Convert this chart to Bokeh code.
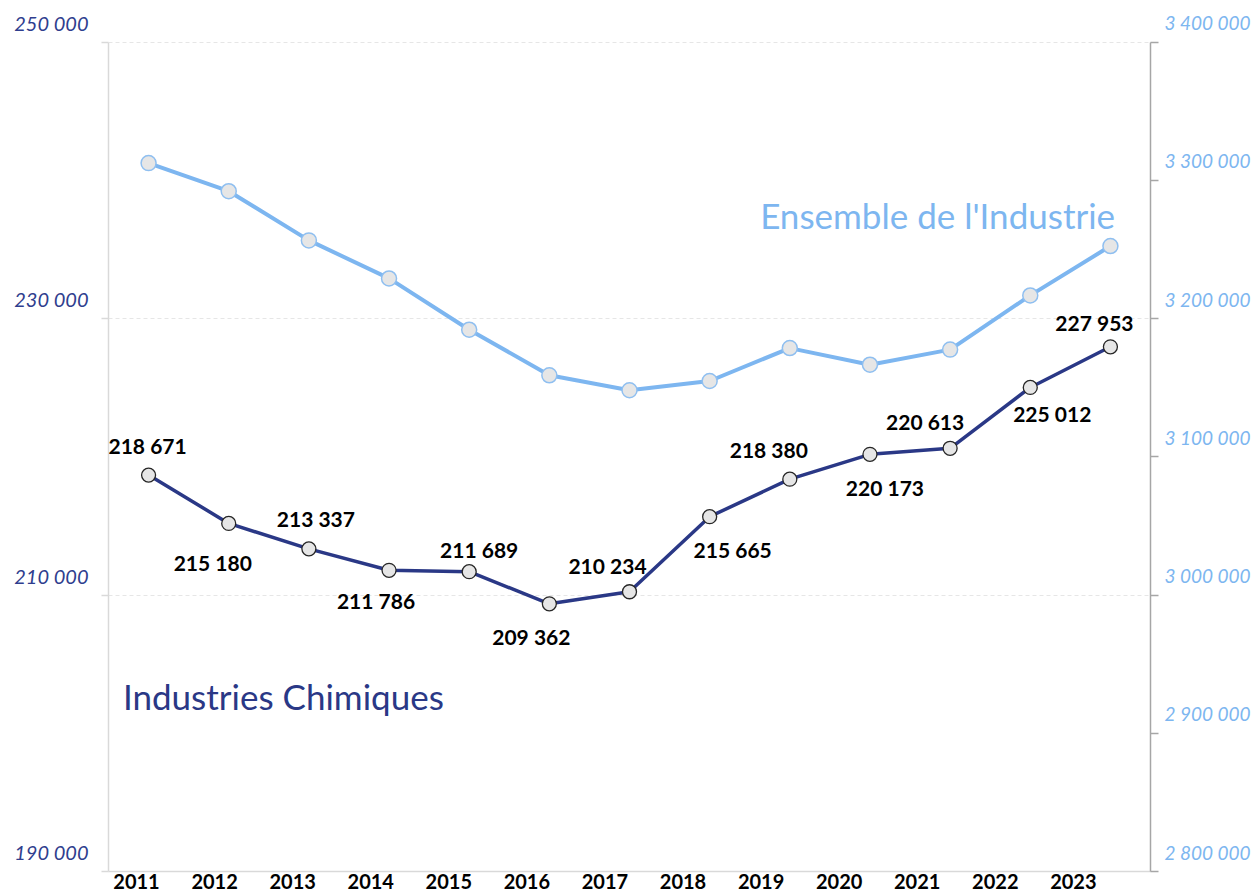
from bokeh.plotting import figure
from bokeh.models import (Range1d, LinearAxis, FixedTicker, Grid, LabelSet, Label,
                          ColumnDataSource, CustomJSTickFormatter)
from bokeh.embed import file_html
from bokeh.resources import INLINE
from bokeh.core.properties import value

# ---------------- data ----------------
years = ["2011", "2012", "2013", "2014", "2015", "2016", "2017",
         "2018", "2019", "2020", "2021", "2022", "2023"]
chimie = [218671, 215180, 213337, 211786, 211689, 209362, 210234,
          215665, 218380, 220173, 220613, 225012, 227953]
industrie = [3312400, 3292100, 3256500, 3229000, 3191900, 3158900, 3148100,
             3154800, 3178600, 3166600, 3177500, 3216700, 3252400]
left_ticks = [190000, 210000, 230000, 250000]
right_ticks = [2800000, 2900000, 3000000, 3100000, 3200000, 3300000, 3400000]
title_chimie = "Industries Chimiques"
title_industrie = "Ensemble de l'Industrie"

# label placement (screen px offsets of the value labels, styling only)
label_dx = [-1, -16, 7, -13, 10, -18, -22, 23, -21, 15, -25, 22, -16]
label_dy = [-30, 39, -30, 30, -22, 33, -26, 33, -30, 33, -27, 26, -24]


def fr(v):
    return f"{v:,}".replace(",", " ")


DARK = "#2a3886"
LIGHT = "#7db6f0"
LEFT_TXT = "#2f3e8e"
FONT = "Lato"

W, H = 1253, 896
BORDER_L, BORDER_R, BORDER_T, BORDER_B = 108, 97, 8, 25
TOP_PAD = 33.5          # px of empty frame above the top tick
LABEL_RISE = 19.5       # tick labels sit this many px above their tick

n = len(years)
xs = list(range(n))

frame_h = H - BORDER_T - BORDER_B
axis_h = frame_h - TOP_PAD
lo, hi = left_ticks[0], left_ticks[-1]
rlo, rhi = right_ticks[0], right_ticks[-1]
upp_l = (hi - lo) / axis_h
upp_r = (rhi - rlo) / axis_h

p = figure(width=W, height=H,
           x_range=Range1d(-0.5, n - 0.5),
           y_range=Range1d(lo, hi + TOP_PAD * upp_l),
           output_backend="svg", toolbar_location=None,
           x_axis_location=None, y_axis_location=None,
           min_border_left=BORDER_L, min_border_right=BORDER_R,
           min_border_top=BORDER_T, min_border_bottom=BORDER_B)
p.outline_line_color = None
p.grid.visible = False
p.background_fill_color = "white"
p.border_fill_color = "white"

p.extra_y_ranges = {
    "right": Range1d(rlo, rhi + TOP_PAD * upp_r),
    "left_lab": Range1d(lo - LABEL_RISE * upp_l, hi + (TOP_PAD - LABEL_RISE) * upp_l),
    "right_lab": Range1d(rlo - LABEL_RISE * upp_r, rhi + (TOP_PAD - LABEL_RISE) * upp_r),
}
p.extra_x_ranges = {"lab": Range1d(-0.359, n - 1 + 0.988)}


def blank():
    return CustomJSTickFormatter(code="return ''")


# visible left axis (line + ticks)
la = LinearAxis(ticker=FixedTicker(ticks=left_ticks), formatter=blank(),
                bounds=(lo, hi),
                axis_line_color="#d9d9d9", axis_line_width=1.5,
                major_tick_line_color="#d9d9d9", major_tick_line_width=1.5,
                major_tick_out=7, major_tick_in=0,
                minor_tick_out=0, minor_tick_in=0, major_label_standoff=0)
p.add_layout(la, "left")
# left tick labels (raised above their ticks)
la2 = LinearAxis(y_range_name="left_lab", ticker=FixedTicker(ticks=left_ticks),
                 major_label_overrides={v: fr(v) for v in left_ticks},
                 axis_line_color=None, major_tick_line_color=None,
                 minor_tick_line_color=None, major_label_standoff=7,
                 major_label_text_font=FONT, major_label_text_font_style="italic",
                 major_label_text_font_size="20px",
                 major_label_text_color=LEFT_TXT)
p.add_layout(la2, "left")

# visible right axis
ra = LinearAxis(y_range_name="right", ticker=FixedTicker(ticks=right_ticks),
                formatter=blank(), bounds=(rlo, rhi),
                axis_line_color="#a6a6a6", axis_line_width=1.5,
                major_tick_line_color="#a6a6a6", major_tick_line_width=1.5,
                major_tick_out=8, major_tick_in=0,
                minor_tick_out=0, minor_tick_in=0, major_label_standoff=0)
p.add_layout(ra, "right")
ra2 = LinearAxis(y_range_name="right_lab", ticker=FixedTicker(ticks=right_ticks),
                 major_label_overrides={v: fr(v) for v in right_ticks},
                 axis_line_color=None, major_tick_line_color=None,
                 minor_tick_line_color=None, major_label_standoff=0,
                 major_label_text_font=FONT, major_label_text_font_style="italic",
                 major_label_text_font_size="19px",
                 major_label_text_color=LIGHT)
p.add_layout(ra2, "right")

# bottom axis (year labels)
ba = LinearAxis(x_range_name="lab", ticker=FixedTicker(ticks=xs),
                major_label_overrides={i: y for i, y in zip(xs, years)},
                axis_line_color="#d9d9d9", axis_line_width=1.5,
                major_tick_out=0, major_tick_in=0,
                minor_tick_out=0, minor_tick_in=0,
                major_label_standoff=2,
                major_label_text_font=FONT,
                major_label_text_font_style="bold",
                major_label_text_font_size="20px",
                major_label_text_color="black")
p.add_layout(ba, "below")

# grid
grid = Grid(dimension=1, ticker=FixedTicker(ticks=left_ticks),
            grid_line_color="#e6e6e6", grid_line_dash="4 3", grid_line_width=1)
p.add_layout(grid, "center")

src = ColumnDataSource(dict(
    x=xs, chimie=chimie, industrie=industrie,
    lab=[fr(v) for v in chimie],
    dx=label_dx, dy=[-d for d in label_dy],
))

# Ensemble de l'Industrie (right axis)
p.line("x", "industrie", source=src, y_range_name="right",
       line_color=LIGHT, line_width=4)
p.scatter("x", "industrie", source=src, y_range_name="right", size=15,
          fill_color="#e6e6e6", line_color="#8fbff0", line_width=1.5)

# Industries Chimiques (left axis)
p.line("x", "chimie", source=src, line_color=DARK, line_width=3.5)
p.scatter("x", "chimie", source=src, size=14,
          fill_color="#e6e6e6", line_color="#262626", line_width=1.3)

p.add_layout(LabelSet(x="x", y="chimie", text="lab", source=src,
                      x_offset="dx", y_offset="dy",
                      text_align="center", text_baseline="middle",
                      text_font=value(FONT), text_font_style="bold",
                      text_font_size="21px", text_color="black"))

# series titles
p.add_layout(Label(x=7.63, y=237451, text=title_industrie,
                   text_font=FONT, text_font_size="35px", text_color=LIGHT,
                   text_align="left", text_baseline="alphabetic"))
p.add_layout(Label(x=-0.32, y=202660, text=title_chimie,
                   text_font=FONT, text_font_size="35px", text_color=DARK,
                   text_align="left", text_baseline="alphabetic"))

open("out.html", "w").write(file_html(p, INLINE))
